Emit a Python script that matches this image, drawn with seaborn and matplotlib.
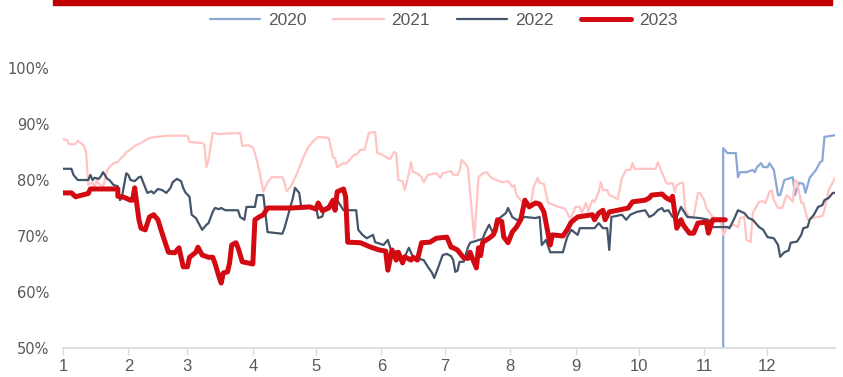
import matplotlib
matplotlib.use("Agg")
import matplotlib.pyplot as plt
import seaborn as sns
from matplotlib.patches import Rectangle

# dados (x = dia do ano, y = %)
d2020 = [313, 313, 315, 318, 319, 320, 321, 324, 327, 328, 329, 331, 332, 334, 335, 337, 339, 340,
         342, 346, 347, 349, 351, 352, 354, 357, 359, 360, 361, 366]
v2020 = [50.0, 85.7, 84.8, 84.8, 84.8, 80.5, 81.4, 81.4, 81.8, 81.4, 82.3, 83.0, 82.3, 82.3, 83.0, 81.8, 77.3, 77.3,
         80.0, 80.5, 77.3, 79.5, 79.3, 77.7, 80.4, 81.8, 83.2, 83.4, 87.7, 88.0]

d2021 = [0, 2, 3, 6, 7, 9, 10, 11, 12, 14, 15, 16, 17, 19, 21, 22, 24, 26, 28, 29, 30, 32, 34, 37, 39, 41,
         44, 45, 49, 59, 60, 66, 67, 68, 69, 71, 74, 78, 84, 85, 88, 90, 91, 93, 95, 97, 99, 104, 105, 106,
         108, 111, 114, 116, 119, 121, 126, 128, 129, 130, 133, 134, 135, 138, 139, 141, 143, 145, 148, 149,
         151, 154, 155, 157, 158, 159, 161, 162, 164, 165, 166, 168, 170, 171, 173, 177, 179, 180, 184, 185,
         187, 188, 189, 191, 192, 195, 197, 199, 201, 203, 205, 208, 211, 213, 214, 215, 218, 222, 223, 225,
         226, 228, 230, 235, 238, 240, 241, 243, 245, 246, 248, 249, 251, 252, 254, 255, 256, 258, 259, 262,
         263, 265, 267, 269, 270, 271, 276, 281, 282, 286, 287, 289, 290, 291, 293, 294, 295, 297, 299, 301,
         302, 304, 305, 308, 310, 312, 313, 315, 318, 320, 321, 323, 324, 326, 327, 330, 332, 333, 335, 336,
         337, 339, 341, 343, 344, 346, 347, 348, 350, 351, 353, 355, 358, 360, 361, 363, 365, 366]
v2021 = [87.3, 87.1, 86.4, 86.4, 87.0, 86.4, 86.1, 84.8, 79.1, 79.6, 78.6, 80.0, 79.3, 78.8, 81.8, 82.3, 83.0, 83.2,
         84.1, 84.4, 85.0, 85.4, 86.1, 86.6, 87.1, 87.5, 87.7, 87.7, 87.9, 87.9, 86.8, 86.6, 86.3, 82.3, 83.6,
         88.4, 88.2, 88.3, 88.4, 86.1, 86.2, 85.8, 84.8, 81.8, 77.9, 79.6, 80.5, 80.5, 79.6, 78.0, 78.8, 81.2,
         84.1, 85.7, 87.1, 87.7, 87.5, 84.1, 83.9, 82.3, 83.0, 83.0, 83.2, 84.5, 84.5, 85.4, 85.4, 88.4, 88.6,
         84.8, 84.6, 83.9, 83.7, 85.0, 84.8, 80.0, 79.8, 78.2, 81.2, 83.2, 81.4, 81.2, 80.5, 79.6, 80.9, 81.2,
         80.4, 81.2, 81.6, 80.9, 80.9, 81.6, 83.6, 82.8, 82.1, 69.6, 80.5, 81.2, 81.4, 80.4, 80.1, 79.6, 79.8,
         78.8, 79.1, 77.3, 75.9, 75.9, 78.6, 80.4, 79.5, 79.3, 75.9, 75.2, 74.9, 73.4, 73.4, 75.2, 75.2, 74.1,
         75.9, 74.4, 76.4, 76.1, 77.9, 79.6, 78.2, 78.2, 77.3, 76.8, 76.6, 80.4, 81.8, 81.8, 83.0, 82.0, 82.0,
         82.0, 83.2, 79.5, 79.3, 79.5, 77.9, 79.1, 79.5, 79.5, 74.6, 73.4, 73.4, 77.7, 77.7, 76.4, 75.0, 73.4,
         73.2, 72.3, 70.2, 71.6, 72.0, 71.6, 73.2, 73.4, 69.3, 68.9, 74.1, 76.1, 76.2, 75.9, 77.9, 78.2, 76.4,
         75.0, 75.0, 77.3, 77.0, 76.1, 80.0, 79.7, 75.9, 75.9, 72.9, 73.2, 73.4, 73.6, 74.6, 78.2, 79.6, 80.4]

d2022 = [0, 4, 5, 7, 12, 13, 14, 15, 17, 18, 19, 21, 22, 24, 26, 27, 28, 29, 30, 31, 32, 34, 36, 37, 38, 40,
         42, 43, 45, 47, 49, 51, 52, 54, 56, 57, 58, 60, 61, 63, 64, 66, 68, 69, 71, 72, 74, 75, 77, 83, 84,
         86, 87, 91, 92, 95, 97, 104, 105, 109, 110, 112, 113, 120, 121, 123, 124, 127, 128, 130, 133, 139,
         140, 142, 144, 147, 148, 152, 154, 156, 158, 161, 162, 164, 166, 171, 173, 175, 176, 178, 180, 182,
         184, 185, 186, 187, 188, 190, 192, 193, 199, 200, 202, 204, 206, 210, 211, 213, 215, 216, 219, 224,
         226, 227, 229, 231, 237, 239, 241, 244, 245, 252, 254, 256, 258, 259, 260, 265, 267, 269, 272, 276,
         278, 280, 282, 284, 285, 287, 289, 291, 293, 294, 296, 302, 306, 308, 315, 316, 318, 320, 323, 325,
         327, 330, 332, 334, 337, 339, 340, 342, 344, 345, 348, 350, 351, 353, 354, 356, 358, 360, 361, 363,
         365, 366]
v2022 = [82.0, 82.0, 80.9, 80.0, 80.0, 80.9, 80.0, 80.4, 80.2, 80.7, 81.4, 80.2, 80.0, 79.1, 78.9, 76.4, 77.1,
         79.1, 81.2, 80.9, 80.0, 79.8, 80.5, 80.6, 79.6, 77.7, 78.0, 77.6, 78.4, 78.2, 77.7, 78.6, 79.6, 80.2,
         79.8, 78.6, 77.8, 77.0, 73.8, 73.2, 72.5, 71.1, 72.0, 72.3, 74.3, 75.0, 74.8, 75.0, 74.6, 74.6, 73.4,
         72.9, 75.2, 75.2, 77.3, 77.3, 70.7, 70.4, 71.4, 76.8, 78.6, 77.7, 75.0, 75.0, 73.2, 73.5, 75.0, 75.5,
         75.0, 76.4, 74.6, 74.6, 71.1, 70.2, 69.6, 70.2, 68.9, 68.4, 69.3, 66.9, 67.3, 65.7, 66.3, 67.9, 66.2,
         65.7, 64.5, 63.4, 62.5, 64.5, 66.6, 66.8, 66.4, 65.7, 63.6, 63.8, 65.4, 65.4, 68.0, 68.8, 69.5, 70.5,
         72.0, 70.5, 72.9, 74.1, 75.0, 73.4, 72.9, 72.9, 73.4, 73.2, 73.4, 68.4, 69.3, 67.1, 67.1, 69.8, 71.1,
         70.2, 71.4, 71.4, 72.3, 71.4, 71.4, 67.5, 73.4, 73.8, 72.9, 73.8, 74.3, 74.6, 73.4, 73.8, 74.6, 75.0,
         74.4, 74.6, 73.4, 73.4, 75.2, 74.6, 73.4, 73.2, 72.9, 71.6, 71.6, 71.4, 72.9, 74.6, 74.1, 73.2, 72.9,
         71.6, 71.1, 69.8, 69.6, 68.4, 66.3, 67.1, 67.4, 68.8, 69.0, 70.2, 71.4, 71.6, 72.9, 73.8, 75.2, 75.5,
         76.4, 76.8, 77.7, 77.7]

d2023 = [0, 4, 6, 9, 12, 13, 26, 26, 29, 32, 33, 34, 36, 37, 39, 41, 43, 45, 47, 50, 53, 55, 57, 59, 60, 63,
         64, 66, 69, 71, 72, 74, 75, 76, 78, 79, 80, 82, 83, 85, 90, 91, 93, 95, 97, 108, 117, 120, 121, 123,
         126, 128, 129, 130, 133, 134, 135, 141, 146, 150, 153, 154, 156, 158, 159, 161, 162, 165, 166, 168,
         170, 174, 177, 182, 184, 185, 187, 190, 192, 193, 194, 196, 197, 198, 199, 202, 204, 205, 206, 208,
         209, 211, 213, 215, 217, 219, 221, 224, 226, 228, 231, 232, 237, 239, 241, 244, 251, 252, 254, 256,
         257, 259, 263, 268, 270, 276, 278, 279, 284, 286, 288, 289, 291, 293, 294, 297, 299, 301, 305, 306,
         308, 314]
v2023 = [77.7, 77.7, 77.0, 77.3, 77.6, 78.4, 78.4, 77.1, 76.9, 76.4, 76.4, 78.6, 72.9, 71.4, 71.1, 73.4, 73.8,
         72.9, 70.5, 67.1, 67.0, 67.9, 64.5, 64.5, 66.2, 67.1, 68.0, 66.6, 66.2, 66.2, 65.2, 62.7, 61.6, 63.4,
         63.6, 65.2, 68.4, 68.8, 67.9, 65.4, 65.0, 72.9, 73.4, 73.8, 75.0, 75.0, 75.2, 74.8, 75.9, 74.5, 75.0,
         76.4, 74.6, 77.9, 78.4, 77.0, 68.9, 68.8, 68.0, 67.5, 67.3, 63.9, 67.5, 65.7, 67.1, 65.2, 66.3, 65.7,
         66.2, 65.7, 68.8, 68.9, 69.6, 69.8, 68.0, 67.9, 67.5, 66.1, 66.0, 67.1, 66.1, 64.3, 67.9, 66.5, 68.9,
         69.6, 70.2, 71.1, 72.9, 72.6, 69.8, 68.8, 70.7, 71.6, 72.9, 76.4, 75.2, 75.9, 75.7, 74.3, 68.4, 70.2,
         70.0, 71.1, 72.5, 73.4, 73.8, 72.9, 74.1, 74.6, 72.9, 74.3, 74.6, 75.0, 76.1, 76.4, 76.8, 77.3, 77.5,
         76.8, 76.4, 77.1, 71.4, 72.9, 72.0, 70.5, 70.5, 72.3, 72.5, 70.5, 72.9, 72.9]

mes_ticks = [0, 31, 59, 90, 120, 151, 181, 212, 243, 273, 304, 334]
mes_labels = [str(i) for i in range(1, 13)]

series = [("2020", d2020, v2020, "#8aa8d6", 1.6),
          ("2021", d2021, v2021, "#ffc4c4", 1.6),
          ("2022", d2022, v2022, "#44546a", 1.6),
          ("2023", d2023, v2023, "#d40a12", 3.6)]

sns.set_style("white")
plt.rcParams['font.family'] = ['Liberation Sans', 'DejaVu Sans']

fig = plt.figure(figsize=(8.43, 3.77), dpi=100)
ax = fig.add_axes([0.0747, 0.0769, 0.9158, 0.7427])

for nome, x, y, cor, lw in series:
    sns.lineplot(x=x, y=y, ax=ax, color=cor, linewidth=lw, label=nome,
                 estimator=None, sort=False)

ax.set_xlim(0, 366)
ax.set_ylim(50, 100)
ax.set_xticks(mes_ticks)
ax.set_xticklabels(mes_labels, fontsize=12, color="#595959")
ax.set_yticks([50, 60, 70, 80, 90, 100])
ax.set_yticklabels([f"{v}%" for v in range(50, 101, 10)], fontsize=10.5, color="#595959",
                   family="DejaVu Sans")
ax.tick_params(axis="x", length=5, width=1, color="#d9d9d9", pad=3, direction="out", bottom=True)
ax.tick_params(axis="y", length=0, pad=10)
for s in ["top", "right", "left"]:
    ax.spines[s].set_visible(False)
ax.spines["bottom"].set_color("#d9d9d9")
ax.spines["bottom"].set_linewidth(1.2)
ax.set_xlabel("")
ax.set_ylabel("")

ax.legend(loc="center", bbox_to_anchor=(0.526, 0.946), bbox_transform=fig.transFigure,
          ncol=4, frameon=False, fontsize=12.5, labelcolor="#595959",
          handlelength=2.9, columnspacing=1.55, handletextpad=0.45)

# barra vermelha no topo
fig.patches.append(Rectangle((53 / 843, 1 - 5 / 377), (832 - 53) / 843, 6 / 377,
                             transform=fig.transFigure, color="#c00000", zorder=0))

plt.savefig("out.png", dpi=100)
